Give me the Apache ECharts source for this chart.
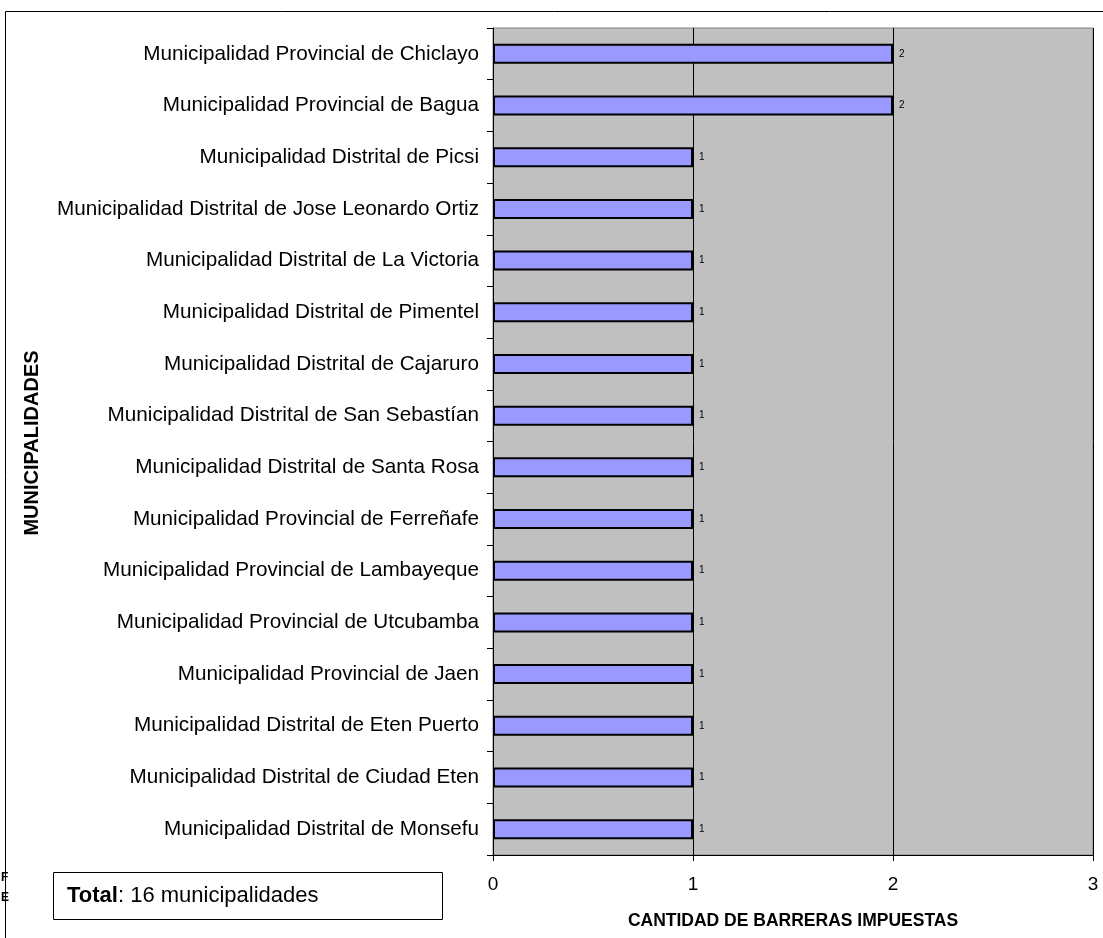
<!DOCTYPE html>
<html><head><meta charset="utf-8">
<script src="https://cdn.jsdelivr.net/npm/echarts@6/dist/echarts.min.js"></script>
<style>html,body{margin:0;padding:0;background:#fff}#c{width:1103px;height:938px}</style>
</head><body><div id="c"></div>
<script>
var categories = [
  'Municipalidad Provincial de Chiclayo',
  'Municipalidad Provincial de Bagua',
  'Municipalidad Distrital de Picsi',
  'Municipalidad Distrital de Jose Leonardo Ortiz',
  'Municipalidad Distrital de La Victoria',
  'Municipalidad Distrital de Pimentel',
  'Municipalidad Distrital de Cajaruro',
  'Municipalidad Distrital de San Sebastían',
  'Municipalidad Distrital de Santa Rosa',
  'Municipalidad Provincial de Ferreñafe',
  'Municipalidad Provincial de Lambayeque',
  'Municipalidad Provincial de Utcubamba',
  'Municipalidad Provincial de Jaen',
  'Municipalidad Distrital de Eten Puerto',
  'Municipalidad Distrital de Ciudad Eten',
  'Municipalidad Distrital de Monsefu'
];
var barreras = [2, 2, 1, 1, 1, 1, 1, 1, 1, 1, 1, 1, 1, 1, 1, 1];
var xTicks = [0, 1, 2, 3];
var xAxisTitle = 'CANTIDAD DE BARRERAS IMPUESTAS';
var yAxisTitle = 'MUNICIPALIDADES';

var chart = echarts.init(document.getElementById('c'), null, {renderer: 'canvas'});
var FONT = 'Liberation Sans, Arial, sans-serif';
chart.setOption({
  animation: false,
  backgroundColor: '#fff',
  grid: {left: 493, top: 28, right: 10, bottom: 83, show: true, backgroundColor: '#C0C0C0', borderColor: '#808080', borderWidth: 1},
  graphic: [
    {type: 'rect', shape: {x: 5.5, y: 11.5, width: 1110, height: 940}, style: {fill: null, stroke: '#000', lineWidth: 1}, z: -10},
    {type: 'text', x: 1, y: 872, style: {text: 'F', font: 'bold 12px ' + FONT, fill: '#000'}},
    {type: 'text', x: 1, y: 892, style: {text: 'E', font: 'bold 12px ' + FONT, fill: '#000'}},
    {type: 'rect', shape: {x: 53.5, y: 872.5, width: 389, height: 47}, style: {fill: '#fff', stroke: '#000', lineWidth: 1}, z: 10},
    {type: 'text', x: 67, y: 896, z: 11, style: {rich: {b: {font: 'bold 22px ' + FONT, fill: '#000'}, n: {font: '22px ' + FONT, fill: '#000'}}, text: '{b|Total}{n|: 16 municipalidades}', verticalAlign: 'middle'}},
    {type: 'text', x: 32, y: 443, rotation: Math.PI / 2, z: 11, style: {text: yAxisTitle, font: 'bold 20px ' + FONT, fill: '#000', align: 'center', verticalAlign: 'middle'}}
  ],
  xAxis: {
    type: 'value', min: xTicks[0], max: xTicks[xTicks.length - 1], interval: 1,
    name: xAxisTitle, nameLocation: 'middle', nameGap: 57,
    nameTextStyle: {fontFamily: FONT, fontWeight: 'bold', fontSize: 17.5, color: '#000'},
    axisLine: {show: true, lineStyle: {color: '#000', width: 1}},
    axisTick: {show: true, length: 6, lineStyle: {color: '#000'}},
    axisLabel: {fontFamily: FONT, fontSize: 19, color: '#000', margin: 20},
    splitLine: {show: true, lineStyle: {color: '#000', width: 1}}
  },
  yAxis: {
    type: 'category', data: categories, inverse: true,
    axisLine: {show: true, lineStyle: {color: '#000', width: 1}},
    axisTick: {show: true, length: 6, lineStyle: {color: '#000'}},
    axisLabel: {fontFamily: FONT, fontSize: 20.7, color: '#000', margin: 14},
    splitLine: {show: false}
  },
  series: [{
    type: 'bar', data: barreras, barWidth: 20,
    itemStyle: {color: '#9999FF', borderColor: '#000', borderWidth: 2},
    label: {show: true, position: 'right', distance: 6, fontFamily: FONT, fontSize: 10, color: '#000'}
  }]
});
</script></body></html>
